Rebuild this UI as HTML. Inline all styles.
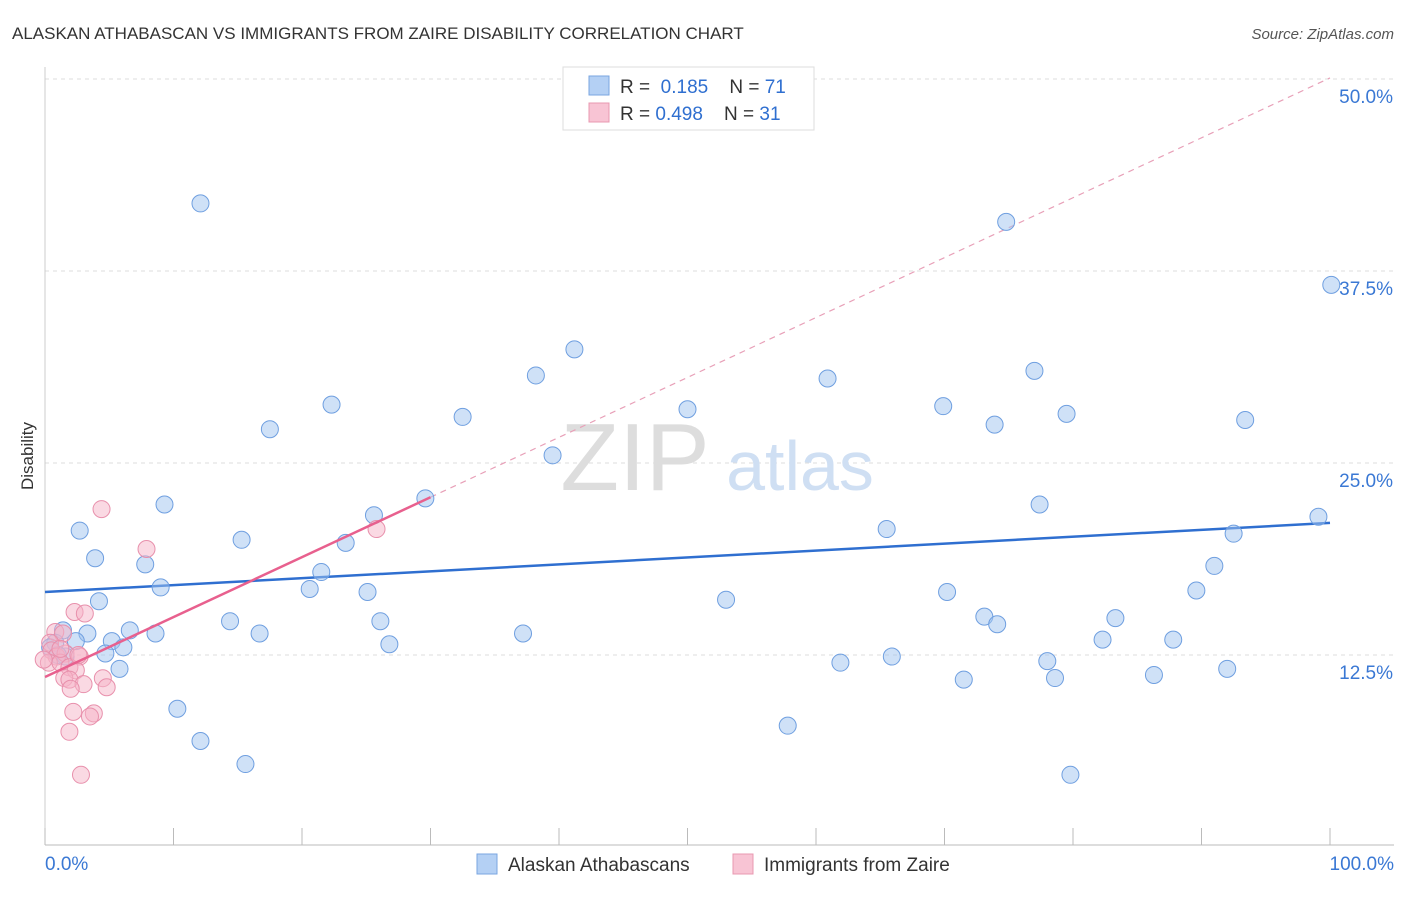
<!DOCTYPE html>
<html><head><meta charset="utf-8"><style>
body{margin:0;background:#fff;font-family:"Liberation Sans",sans-serif;}
svg text{font-family:"Liberation Sans",sans-serif;}
</style></head><body>
<svg width="1406" height="892">
<text x="12" y="39" font-size="17" fill="#333">ALASKAN ATHABASCAN VS IMMIGRANTS FROM ZAIRE DISABILITY CORRELATION CHART</text>
<text x="1394" y="39" font-size="15" fill="#555" font-style="italic" text-anchor="end">Source: ZipAtlas.com</text>
<text x="33" y="456" font-size="17" fill="#333" text-anchor="middle" transform="rotate(-90 33 456)">Disability</text>
<g id="grid"></g>
<g><text x="635" y="490" font-size="96" fill="#ddd" font-family="Liberation Serif" text-anchor="middle">ZIP</text><text x="800" y="490" font-size="70" fill="#cfdff3" text-anchor="middle">atlas</text></g>
<g id="lines"></g>
<g id="pts"></g>
<g>
<rect x="563" y="67" width="251" height="63" fill="#fff" stroke="#ddd"/>
<rect x="589" y="76" width="20" height="19" fill="#b4d0f4" stroke="#7aa6e0"/>
<rect x="589" y="103" width="20" height="19" fill="#f8c4d4" stroke="#e898b0"/>
<text x="620" y="93" font-size="19" fill="#333">R = <tspan fill="#2f6fd0">&#160;0.185</tspan>&#160;&#160;&#160;&#160;N = <tspan fill="#2f6fd0">71</tspan></text>
<text x="620" y="120" font-size="19" fill="#333">R = <tspan fill="#2f6fd0">0.498</tspan>&#160;&#160;&#160;&#160;N = <tspan fill="#2f6fd0">31</tspan></text>
</g>
<g>
<rect x="477" y="854" width="20" height="20" fill="#b4d0f4" stroke="#7aa6e0"/>
<text x="508" y="871" font-size="19" fill="#333">Alaskan Athabascans</text>
<rect x="733" y="854" width="20" height="20" fill="#f8c4d4" stroke="#e898b0"/>
<text x="764" y="871" font-size="19" fill="#333">Immigrants from Zaire</text>
</g>
<text x="45" y="870" font-size="19" fill="#3a78d4">0.0%</text>
<text x="1394" y="870" font-size="19" fill="#3a78d4" text-anchor="end">100.0%</text>
</svg>
<script>
const yTicks=[12.5,25,37.5,50];
const yTickLabels=["12.5%","25.0%","37.5%","50.0%"];
const xTicks=[0,10,20,30,40,50,60,70,80,90,100];
const blueX=[12.1,74.8,100.1,41.2,38.2,60.9,77,22.3,32.5,50,69.9,73.9,79.5,93.4,17.5,39.5,29.6,9.3,2.7,25.6,65.5,77.4,99.1,92.5,15.3,23.4,3.9,7.8,21.5,91,9,20.6,25.1,89.6,4.2,53,70.2,14.4,26.1,73.1,74.1,83.3,6.6,8.6,16.7,37.2,1.4,3.3,0.8,2.4,5.2,6.1,26.8,82.3,87.8,4.7,1.6,61.9,65.9,78,5.8,92,71.5,78.6,86.3,10.3,57.8,12.1,15.6,79.8,0.4,1];
const blueY=[41.9,40.7,36.6,32.4,30.7,30.5,31,28.8,28,28.5,28.7,27.5,28.2,27.8,27.2,25.5,22.7,22.3,20.6,21.6,20.7,22.3,21.5,20.4,20,19.8,18.8,18.4,17.9,18.3,16.9,16.8,16.6,16.7,16,16.1,16.6,14.7,14.7,15,14.5,14.9,14.1,13.9,13.9,13.9,14.1,13.9,13.3,13.4,13.4,13,13.2,13.5,13.5,12.6,12.4,12,12.4,12.1,11.6,11.6,10.9,11,11.2,9,7.9,6.9,5.4,4.7,13.0,12.5];
const pinkX=[4.4,7.9,25.8,2.3,3.1,0.8,1.4,0.4,0.5,0.9,1.6,2.7,0.3,1.2,1.9,2.4,1.5,1.9,3,4.5,4.8,2,2.2,3.8,3.5,1.9,2.8,1.2,-0.1,2.6];
const pinkY=[22,19.4,20.7,15.3,15.2,14,13.9,13.3,12.8,12.4,12.6,12.4,12,12,11.7,11.5,11,10.9,10.6,10.99,10.4,10.3,8.8,8.7,8.5,7.5,4.7,12.9,12.2,12.5];
const blueTrend=[16.6,21.1];
const pinkTrend=[11.07,0.39];
const X=v=>45+v*12.85, Y=v=>847-v*15.36;
const NS="http://www.w3.org/2000/svg";
function mk(t,a,p){const e=document.createElementNS(NS,t);for(const k in a)e.setAttribute(k,a[k]);p.appendChild(e);return e;}
const grid=document.getElementById('grid');
yTicks.forEach((t,i)=>{
 const l=mk('line',{x1:45,x2:1394,y1:Y(t),y2:Y(t),stroke:'#ddd','stroke-dasharray':'4,4'},grid);
 
 
 const tx=mk('text',{x:1393,y:Y(t)+24,'font-size':19,fill:'#3a78d4','text-anchor':'end'},grid);
 tx.textContent=yTickLabels[i];
 
 
});
const ax=mk('line',{x1:45,x2:1394,y1:845,y2:845,stroke:'#bbb'},grid);


const ay=mk('line',{x1:45,x2:45,y1:67,y2:845,stroke:'#ccc'},grid);


xTicks.forEach(t=>{
 const l=mk('line',{x1:X(t),x2:X(t),y1:828,y2:845,stroke:'#bbb'},grid);
 
 
});
const lines=document.getElementById('lines');
const bl=mk('line',{x1:X(0),y1:Y(blueTrend[0]),x2:X(100),y2:Y(blueTrend[1]),stroke:'#2f6fd0','stroke-width':2.5},lines);


const pd=mk('line',{x1:X(30),y1:Y(pinkTrend[0]+30*pinkTrend[1]),x2:X(100),y2:Y(pinkTrend[0]+100*pinkTrend[1]),stroke:'#e8a0b8','stroke-width':1.2,'stroke-dasharray':'6,5'},lines);


const pts=document.getElementById('pts');
blueX.forEach((x,i)=>{
 const c=mk('circle',{cx:X(x),cy:Y(blueY[i]),r:8.5,fill:'rgba(160,195,240,0.5)',stroke:'#6f9fe0','stroke-width':1},pts);
 
 
});
pinkX.forEach((x,i)=>{
 const c=mk('circle',{cx:X(x),cy:Y(pinkY[i]),r:8.5,fill:'rgba(245,180,200,0.5)',stroke:'#e890ac','stroke-width':1},pts);
 
 
});
const pl=mk('line',{x1:X(0),y1:Y(pinkTrend[0]),x2:X(30),y2:Y(pinkTrend[0]+30*pinkTrend[1]),stroke:'#e8608e','stroke-width':2.5},pts);


</script>
</body></html>
